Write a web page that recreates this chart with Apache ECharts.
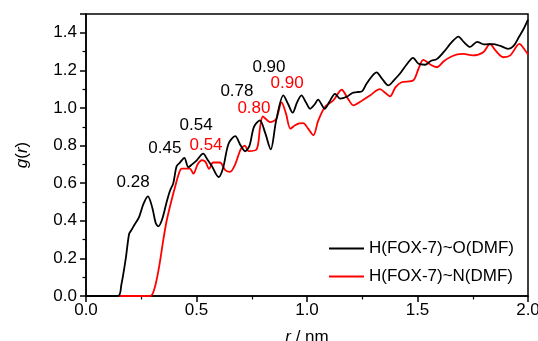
<!DOCTYPE html>
<html>
<head>
<meta charset="utf-8">
<script src="https://cdn.jsdelivr.net/npm/echarts@6/dist/echarts.min.js"></script>
<style>html,body{margin:0;padding:0;background:#fff}#c{width:538px;height:341px}</style>
</head>
<body>
<div id="c"></div>
<script>
// ---- data ----
const rBlack = [0,0.145,0.16,0.18,0.195,0.205,0.22,0.24,0.26,0.28,0.30,0.315,0.327,0.345,0.365,0.38,0.395,0.41,0.425,0.445,0.463,0.48,0.50,0.53,0.55,0.57,0.60,0.62,0.645,0.675,0.70,0.72,0.74,0.76,0.787,0.81,0.836,0.86,0.893,0.915,0.935,0.955,0.975,0.995,1.014,1.035,1.05,1.08,1.10,1.127,1.15,1.18,1.205,1.225,1.25,1.27,1.315,1.34,1.368,1.395,1.42,1.45,1.48,1.505,1.534,1.56,1.587,1.62,1.655,1.685,1.71,1.738,1.77,1.80,1.84,1.875,1.91,1.935,1.96,1.98,2.0];
const gBlack = [0,0,0.06,0.20,0.33,0.35,0.38,0.42,0.49,0.53,0.47,0.39,0.37,0.41,0.50,0.56,0.60,0.69,0.71,0.735,0.685,0.70,0.72,0.757,0.725,0.69,0.633,0.68,0.81,0.85,0.80,0.77,0.80,0.90,0.934,0.87,0.78,0.93,1.067,1.02,0.975,1.03,1.067,1.03,0.996,1.02,1.045,0.996,1.03,1.075,1.05,1.06,1.08,1.084,1.09,1.13,1.19,1.155,1.12,1.15,1.182,1.23,1.267,1.235,1.23,1.25,1.26,1.30,1.35,1.38,1.35,1.325,1.352,1.338,1.34,1.33,1.315,1.33,1.38,1.42,1.47];
const rRed = [0,0.29,0.31,0.33,0.35,0.365,0.385,0.403,0.42,0.433,0.47,0.486,0.505,0.524,0.54,0.557,0.575,0.606,0.63,0.652,0.675,0.70,0.719,0.735,0.772,0.788,0.80,0.815,0.833,0.86,0.885,0.905,0.925,0.946,0.965,0.983,1.005,1.029,1.05,1.081,1.119,1.157,1.185,1.21,1.25,1.285,1.33,1.355,1.376,1.40,1.428,1.48,1.505,1.526,1.56,1.587,1.62,1.647,1.68,1.707,1.75,1.798,1.828,1.85,1.888,1.92,1.961,1.985,2.0];
const gRed = [0,0,0.04,0.15,0.30,0.40,0.50,0.58,0.65,0.678,0.678,0.651,0.70,0.722,0.715,0.676,0.71,0.71,0.67,0.66,0.70,0.78,0.80,0.771,0.78,0.90,0.955,0.94,0.925,0.94,1.03,0.97,0.89,0.908,0.918,0.92,0.89,0.855,0.93,1.005,1.04,1.097,1.05,1.014,1.04,1.067,1.10,1.08,1.062,1.11,1.137,1.146,1.21,1.256,1.23,1.217,1.25,1.27,1.285,1.288,1.28,1.297,1.341,1.31,1.27,1.28,1.341,1.31,1.284];
const seriesNames = ['H(FOX-7)~O(DMF)', 'H(FOX-7)~N(DMF)'];
const peakTextBlack = ['0.28','0.45','0.54','0.78','0.90'];
const peakXBlack = [0.213,0.357,0.498,0.683,0.828];
const peakYBlack = [0.605,0.786,0.908,1.088,1.217];
const peakTextRed = ['0.54','0.80','0.90'];
const peakXRed = [0.543,0.760,0.910];
const peakYRed = [0.801,0.998,1.132];

const FONT = '"Liberation Sans", Arial, sans-serif';
const zip = (a,b) => a.map((v,i)=>[v,b[i]]);
const ann = (t,x,y) => t.map((s,i)=>({name:s, value:[x[i],y[i]]}));

const chart = echarts.init(document.getElementById('c'), null, {renderer:'canvas'});
chart.setOption({
  animation:false,
  backgroundColor:'#fff',
  textStyle:{fontFamily:FONT},
  grid:{left:86,right:10,top:14,bottom:45,containLabel:false,outerBoundsMode:'none',show:true,borderColor:'#000',borderWidth:1.5,backgroundColor:'transparent'},
  xAxis:{type:'value',min:0,max:2,interval:0.5,
    axisLine:{lineStyle:{color:'#000',width:1.5}},
    axisTick:{inside:false,length:6,lineStyle:{color:'#000',width:1.5}},
    minorTick:{show:true,splitNumber:2,length:3.5,lineStyle:{color:'#000',width:1.2}},
    splitLine:{show:false},
    axisLabel:{color:'#000',fontSize:17,fontFamily:FONT,margin:6,formatter:v=>v.toFixed(1)},
    name:'{i|r} / nm',nameLocation:'middle',nameGap:33,
    nameTextStyle:{color:'#000',fontSize:17,fontFamily:FONT,rich:{i:{fontStyle:'italic',fontSize:17,fontFamily:FONT,color:'#000'}}}
  },
  yAxis:{type:'value',min:0,max:1.5,interval:0.2,
    axisLine:{show:true,lineStyle:{color:'#000',width:1.5}},
    axisTick:{show:true,inside:false,length:6,lineStyle:{color:'#000',width:1.5}},
    minorTick:{show:true,splitNumber:2,length:3.5,lineStyle:{color:'#000',width:1.2}},
    splitLine:{show:false},
    axisLabel:{color:'#000',fontSize:17,fontFamily:FONT,margin:9,showMaxLabel:false,formatter:v=>v.toFixed(1)},
    name:'{i|g}({i|r})',nameLocation:'middle',nameGap:55,
    nameTextStyle:{color:'#000',fontSize:17,fontFamily:FONT,rich:{i:{fontStyle:'italic',fontSize:17,fontFamily:FONT,color:'#000'}}}
  },
  legend:{data:seriesNames,orient:'vertical',left:329,top:240,padding:0,icon:'rect',itemWidth:35,itemHeight:2,itemGap:11,
    textStyle:{color:'#000',fontSize:17,fontFamily:FONT}},
  series:[
    {name:seriesNames[0],type:'line',data:zip(rBlack,gBlack),symbol:'none',smooth:0.3,
      lineStyle:{color:'#000',width:1.8},itemStyle:{color:'#000'},z:3},
    {name:seriesNames[1],type:'line',data:zip(rRed,gRed),symbol:'none',smooth:0.3,
      lineStyle:{color:'#ff0000',width:1.8},itemStyle:{color:'#ff0000'},z:2},
    {type:'scatter',data:ann(peakTextBlack,peakXBlack,peakYBlack),symbolSize:0,silent:true,itemStyle:{color:'#000'},
      label:{show:true,position:'inside',formatter:'{b}',color:'#000',textBorderWidth:0,opacity:1,fontSize:17,fontFamily:FONT}},
    {type:'scatter',data:ann(peakTextRed,peakXRed,peakYRed),symbolSize:0,silent:true,itemStyle:{color:'#ff0000'},
      label:{show:true,position:'inside',formatter:'{b}',color:'#ff0000',textBorderWidth:0,opacity:1,fontSize:17,fontFamily:FONT}}
  ]
});
</script>
</body>
</html>
